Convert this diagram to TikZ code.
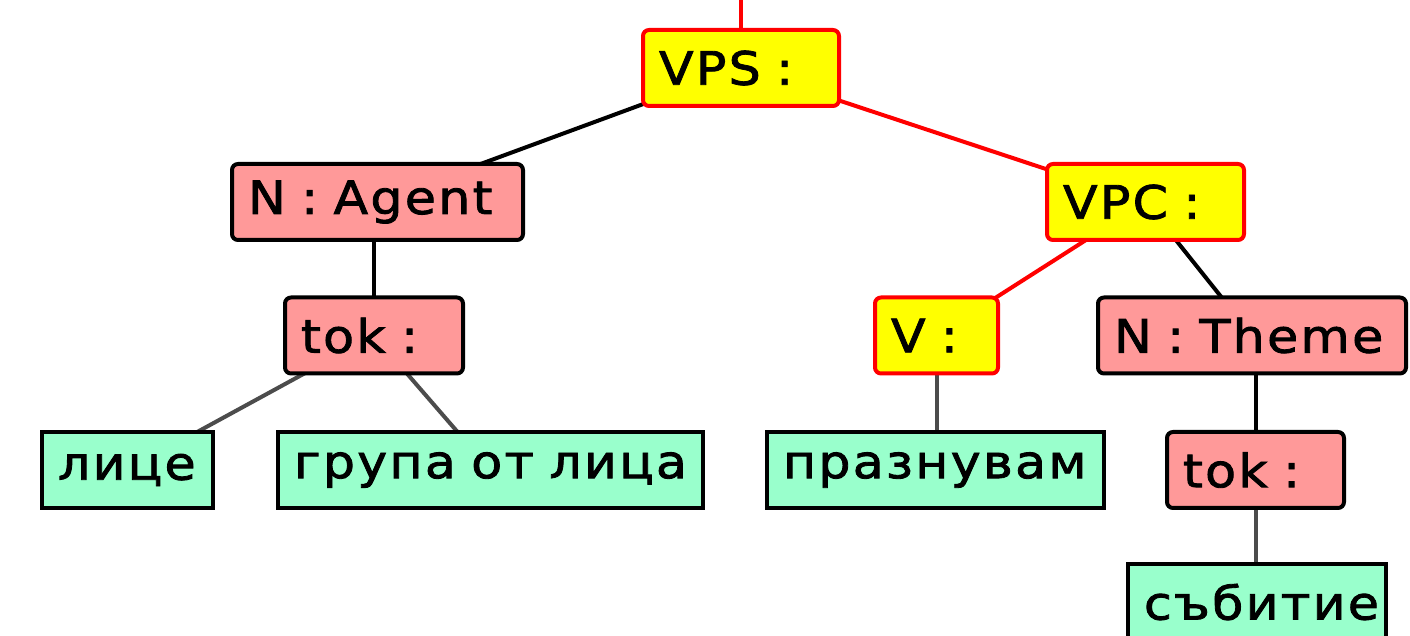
\documentclass[tikz,border=0pt]{standalone}
\usepackage{fontspec}
\setmainfont{DejaVu Sans}[FakeStretch=1.1, LetterSpace=5, FakeBold=1.8]
\usetikzlibrary{backgrounds}
\definecolor{yel}{RGB}{255,255,0}
\definecolor{pinkf}{RGB}{255,153,153}
\definecolor{mint}{RGB}{153,255,204}
\newcommand\myboxfont{\fontsize{23}{27}\selectfont\spaceskip=11.5pt plus 1pt\relax}
\begin{document}
\begin{tikzpicture}[x=0.5pt,y=-0.5pt,
  box/.style={inner xsep=8pt, inner ysep=0pt, text width=#1, align=left, minimum height=38pt,
    font=\myboxfont, line width=2pt},
  phr/.style={box=#1, fill=yel, draw=red, rounded corners=3pt},
  cat/.style={box=#1, fill=pinkf, draw=black, rounded corners=3pt},
  leaf/.style={box=#1, fill=mint, draw=black},
  redl/.style={draw=red, line width=2pt},
  blkl/.style={draw=black, line width=2pt},
  gryl/.style={draw=black!70, line width=2pt}]
\useasboundingbox (0,0) rectangle (1410,636);
\node[phr=82pt]   (VPS)   at (741,68)     {VPS :};
\node[cat=129.5pt](agent) at (377.5,202)  {N : Agent};
\node[phr=82.5pt] (VPC)   at (1145.5,202) {VPC :};
\node[cat=73pt]   (tokL)  at (374,335.5)  {tok :};
\node[phr=45.5pt] (V)     at (936.5,335.5){V :};
\node[cat=138pt]  (theme) at (1252,335.5) {N : Theme};
\node[leaf=69.5pt](lice)  at (127.5,470)  {лице};
\node[leaf=196.5pt](grupa) at (490.5,470) {група от лица};
\node[leaf=152.5pt](praz) at (935.5,470)  {празнувам};
\node[cat=72.5pt] (tokR)  at (1255.5,470) {tok :};
\node[leaf=113pt] (sab)   at (1257,602)   {събитие};
\coordinate (top) at (741,-5);
\begin{pgfonlayer}{background}
\draw[redl] (top) -- (VPS.center);
\draw[blkl] (VPS.center) -- (agent.center);
\draw[redl] (VPS.center) -- (VPC.center);
\draw[blkl] (agent.center -| tokL.center) -- (tokL.center);
\draw[gryl] (tokL.center) -- (lice.center);
\draw[gryl] (tokL.center) -- (grupa.center);
\draw[redl] (VPC.center) -- (V.center);
\draw[blkl] (VPC.center) -- (theme.center);
\draw[gryl] (V.center) -- (V.center |- praz.center);
\draw[blkl] (theme.center -| tokR.center) -- (tokR.center);
\draw[gryl] (tokR.center) -- (tokR.center |- sab.center);
\end{pgfonlayer}
\end{tikzpicture}
\end{document}
